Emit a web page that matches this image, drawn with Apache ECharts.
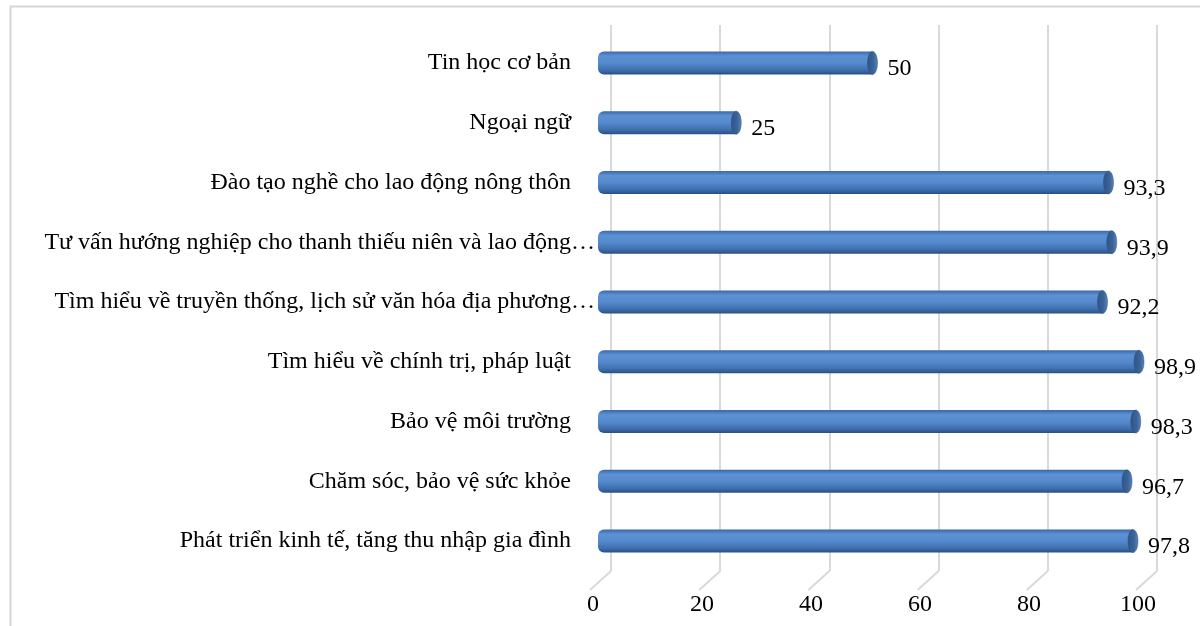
<!DOCTYPE html>
<html><head><meta charset="utf-8">
<script src="https://cdn.jsdelivr.net/npm/echarts@6/dist/echarts.min.js"></script>
<style>html,body{margin:0;padding:0;background:#fff}#c{width:1200px;height:626px}</style>
</head><body><div id="c"></div>
<script>
const categories = [
  "Tin học cơ bản",
  "Ngoại ngữ",
  "Đào tạo nghề cho lao động nông thôn",
  "Tư vấn hướng nghiệp cho thanh thiếu niên và lao động…",
  "Tìm hiểu về truyền thống, lịch sử văn hóa địa phương…",
  "Tìm hiểu về chính trị, pháp luật",
  "Bảo vệ môi trường",
  "Chăm sóc, bảo vệ sức khỏe",
  "Phát triển kinh tế, tăng thu nhập gia đình"
];
const values = [50, 25, 93.3, 93.9, 92.2, 98.9, 98.3, 96.7, 97.8];
const tickValues = [0, 20, 40, 60, 80, 100];

const FONT = "Liberation Serif";
const FS = 24;
const chart = echarts.init(document.getElementById('c'), null, {renderer: 'canvas'});

const barGrad = new echarts.graphic.LinearGradient(0, 0, 0, 1, [
  {offset: 0, color: '#3a68a6'},
  {offset: 0.2, color: '#5c91d5'},
  {offset: 0.5, color: '#558acd'},
  {offset: 0.8, color: '#3f70b0'},
  {offset: 1, color: '#2b4f82'}
]);
const capGrad = new echarts.graphic.LinearGradient(0, 0, 1, 0, [
  {offset: 0, color: '#2f5586'},
  {offset: 0.6, color: '#3b6499'},
  {offset: 1, color: '#5a86bf'}
]);

chart.setOption({
  animation: false,
  graphic: [{
    type: 'rect', left: 8, top: 4, z: -10,
    shape: {width: 1300, height: 800},
    style: {fill: 'none', stroke: '#d6d6d6', lineWidth: 2}
  }],
  grid: [
    {left: 605, right: 50, top: 33, bottom: 55},
    {left: 611, right: 43, top: 25, bottom: 55},
    {left: 593, right: 62, top: 25, bottom: 38}
  ],
  xAxis: [
    {gridIndex: 0, type: 'value', min: 0, max: 100, show: false},
    {gridIndex: 1, type: 'value', min: 0, max: 100, interval: 20,
      axisLine: {show: false}, axisTick: {show: false}, axisLabel: {show: false},
      splitLine: {show: true, lineStyle: {color: '#d9d9d9', width: 2}}},
    {gridIndex: 2, type: 'value', min: 0, max: 100, interval: 20,
      axisLine: {show: false}, axisTick: {show: false}, splitLine: {show: false},
      axisLabel: {margin: 5, fontFamily: FONT, fontSize: FS, color: '#000'}}
  ],
  yAxis: [
    {gridIndex: 0, type: 'category', data: categories, inverse: true,
      axisLine: {show: false}, axisTick: {show: false},
      axisLabel: {margin: 10, fontFamily: FONT, fontSize: FS, color: '#000',
        formatter: function (v) { return v.endsWith('…') ? '{t|' + v + '}' : '{n|' + v + '}'; },
        rich: {
          t: {fontFamily: FONT, fontSize: FS, color: '#000'},
          n: {fontFamily: FONT, fontSize: FS, color: '#000', padding: [0, 24, 0, 0]}
        }}},
    {gridIndex: 1, type: 'value', min: 0, max: 1, show: false},
    {gridIndex: 2, type: 'value', min: 0, max: 1, show: false}
  ],
  series: [
    {
      type: 'custom', xAxisIndex: 1, yAxisIndex: 1,
      data: tickValues.map(v => [v, 0]),
      renderItem: function (params, api) {
        const p = api.coord([api.value(0), 0]);
        return {type: 'line', shape: {x1: p[0], y1: p[1], x2: p[0] - 21, y2: p[1] + 19},
          style: {stroke: '#d9d9d9', lineWidth: 2}};
      }
    },
    {
      type: 'custom', xAxisIndex: 0, yAxisIndex: 0,
      data: values.map((v, i) => [v, i]),
      renderItem: function (params, api) {
        const v = api.value(0);
        const p0 = api.coord([0, api.value(1)]);
        const p1 = api.coord([v, api.value(1)]);
        const h = 23;
        const capW = 10;
        const txt = String(v).replace('.', ',');
        return {
          type: 'group',
          children: [
            {type: 'rect', shape: {x: p0[0] - 7, y: p1[1] - h / 2, width: p1[0] - p0[0] + 2, height: h, r: [6, 0, 0, 6]},
              style: {fill: barGrad}},
            {type: 'ellipse', shape: {cx: p1[0] - capW / 2, cy: p1[1], rx: capW / 2, ry: h / 2},
              style: {fill: capGrad, stroke: '#2c4f7e', lineWidth: 0.5}},
            {type: 'text', x: p1[0] + 10, y: p1[1] + 6,
              style: {text: txt, fontFamily: FONT, fontSize: FS, fill: '#000', verticalAlign: 'middle', align: 'left'}}
          ]
        };
      }
    }
  ]
});
</script></body></html>
